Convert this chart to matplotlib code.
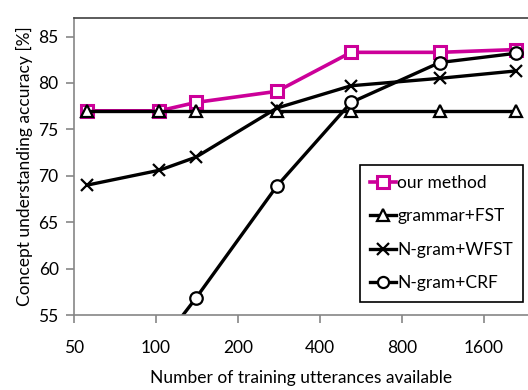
import numpy as np
import matplotlib
matplotlib.use("Agg")
import matplotlib.pyplot as plt

# data
n_utts = [56, 103, 140, 278, 520, 1100, 2100]
our_method = [77.0, 77.0, 77.9, 79.1, 83.3, 83.3, 83.6]
grammar_fst = [77.0, 77.0, 77.0, 77.0, 77.0, 77.0, 77.0]
ngram_wfst = [69.0, 70.6, 72.0, 77.3, 79.7, 80.5, 81.3]
ngram_crf = [45.0, 51.7, 56.8, 68.9, 77.9, 82.2, 83.2]
xticks = [50, 100, 200, 400, 800, 1600]
yticks = [55, 60, 65, 70, 75, 80, 85]

plt.rcParams['font.family'] = ['Lato', 'DejaVu Sans']

fig = plt.figure(figsize=(5.28, 3.9), dpi=100)
ax = fig.add_axes([74/528, 75/390, 454/528, 297/390])

gray = "#868686"
ax.plot(n_utts, our_method, color="#CC0099", lw=2.6, marker="s", ms=9,
        mfc="white", mec="#CC0099", mew=2.2, label="our method")
ax.plot(n_utts, grammar_fst, color="black", lw=2.4, marker="^", ms=9,
        mfc="white", mec="black", mew=1.6, label="grammar+FST")
ax.plot(n_utts, ngram_wfst, color="black", lw=2.4, marker="x", ms=9,
        mew=1.6, label="N-gram+WFST")
ax.plot(n_utts, ngram_crf, color="black", lw=2.4, marker="o", ms=9,
        mfc="white", mec="black", mew=1.6, label="N-gram+CRF")

ax.set_xscale("log", base=2)
ax.set_xlim(50, 50 * 2 ** ((528 - 74) / 82))
ax.set_ylim(55, 87)
ax.set_xticks(xticks)
ax.set_xticklabels([str(t) for t in xticks])
ax.minorticks_off()
ax.set_yticks(yticks)

for s in ["left", "bottom"]:
    ax.spines[s].set_color(gray)
    ax.spines[s].set_linewidth(1.2)
ax.spines["top"].set_color("#404040")
ax.spines["top"].set_linewidth(1.2)
ax.spines["right"].set_visible(False)
ax.tick_params(axis="both", colors=gray, labelcolor="black", labelsize=12.5,
               length=6, width=1.2, direction="out")
ax.tick_params(axis="x", pad=12)
ax.tick_params(axis="y", pad=5)

ax.set_xlabel("Number of training utterances available", fontsize=12.5, labelpad=10)
ax.set_ylabel("Concept understanding accuracy [%]", fontsize=12.5, labelpad=4)

leg = ax.legend(loc="upper right", bbox_to_anchor=(0.99, 0.506), fontsize=12.5,
                handlelength=1.5, handletextpad=0.05, labelspacing=1.0,
                borderpad=0.6, borderaxespad=0, fancybox=False, framealpha=1,
                edgecolor="black")
leg.get_frame().set_linewidth(1.2)
for h in leg.legend_handles:
    h.set_markersize(8)

fig.savefig("out.png", dpi=100)
